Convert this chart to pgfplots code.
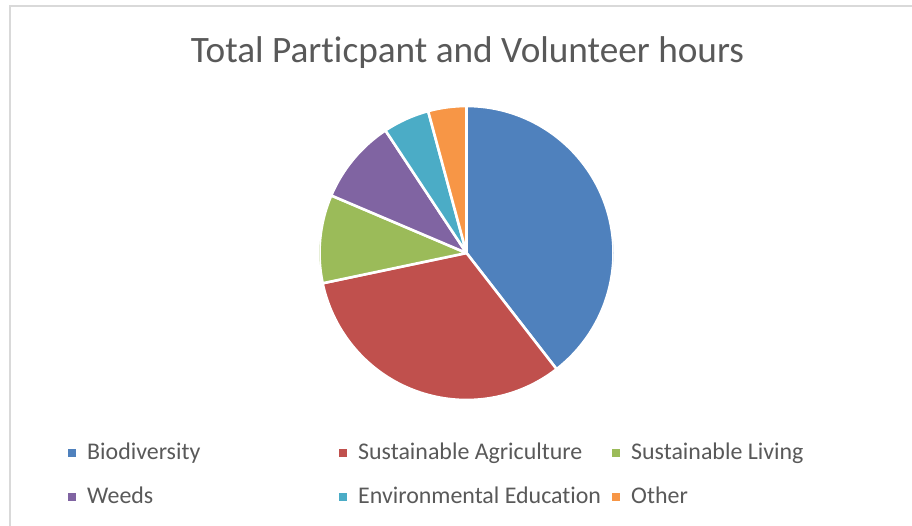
\documentclass[border=0pt]{standalone}
\usepackage{pgfplots}
\usepackage{pgfplotstable}
\usepackage{fontspec}
\setmainfont{Carlito}[Ligatures=NoCommon]
\pgfplotsset{compat=1.18}

\definecolor{cBio}{HTML}{4F81BD}
\definecolor{cAgr}{HTML}{C0504D}
\definecolor{cLiv}{HTML}{9BBB59}
\definecolor{cWee}{HTML}{8064A2}
\definecolor{cEdu}{HTML}{4BACC6}
\definecolor{cOth}{HTML}{F79646}
\definecolor{txt}{HTML}{595959}
\definecolor{frame}{HTML}{D9D9D9}

% share of hours (percent), clockwise from 12 o'clock
\pgfplotstableread[col sep=comma]{
label,value,color
Biodiversity,39.5,cBio
Sustainable Agriculture,32.2,cAgr
Sustainable Living,9.7,cLiv
Weeds,9.3,cWee
Environmental Education,5.1,cEdu
Other,4.2,cOth
}\piedata

\def\pieR{147bp}

\begin{document}
\begin{tikzpicture}
\useasboundingbox (0,0) rectangle (912bp,-526bp);
\fill[white] (0,0) rectangle (912bp,-526bp);
\draw[frame, line width=1.2bp] (10bp,-530bp) -- (10bp,-6bp) -- (915bp,-6bp);

\node[anchor=base, inner sep=0, text=txt, font=\fontsize{37.4}{44}\selectfont]
  at (467.5bp,-62bp) {Total Particpant and Volunteer hours};

\begin{axis}[
  hide axis,
  scale only axis,
  width=294bp, height=294bp,
  xmin=-1, xmax=1, ymin=-1, ymax=1,
  at={(466.5bp,-253bp)}, anchor=center,
]
\pgfplotstablegetrowsof{\piedata}
\pgfmathtruncatemacro\nrows{\pgfplotsretval-1}
\def\angA{90}
\pgfplotsforeachungrouped \i in {0,...,\nrows}{
  \pgfplotstablegetelem{\i}{value}\of\piedata \let\val\pgfplotsretval
  \pgfplotstablegetelem{\i}{color}\of\piedata \let\col\pgfplotsretval
  \pgfmathsetmacro\angB{\angA-3.6*\val}
  \edef\doslice{\noexpand\fill[\col, draw=white, line width=2.6bp, line join=round]
    (axis cs:0,0) -- ++(\angA:\pieR) arc[start angle=\angA, end angle=\angB, radius=\pieR] -- cycle;}
  \doslice
  \global\let\angA\angB
}
\end{axis}

% legend
\foreach \x/\y/\c/\t in {
  87/459/cBio/Biodiversity,
  358/459/cAgr/Sustainable Agriculture,
  631/459/cLiv/Sustainable Living,
  87/503/cWee/Weeds,
  358/503/cEdu/Environmental Education,
  631/503/cOth/Other}{
  \fill[\c] (\x bp-19bp,-\y bp+10bp) rectangle ++(7.5bp,-7.5bp);
  \node[anchor=base west, inner sep=0, text=txt, font=\fontsize{24}{29}\selectfont]
    at (\x bp,-\y bp) {\t};
}
\end{tikzpicture}
\end{document}
